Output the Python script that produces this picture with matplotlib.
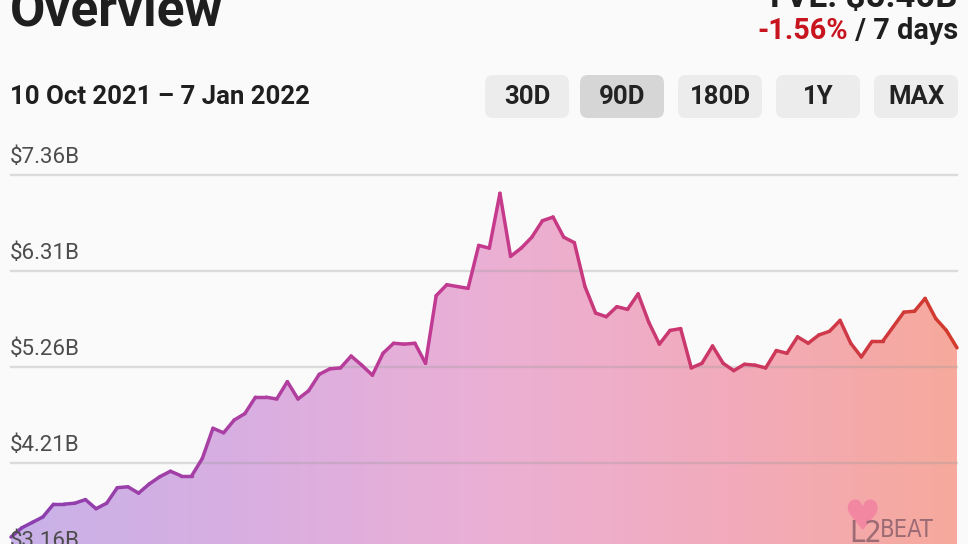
import numpy as np
import matplotlib.pyplot as plt
from matplotlib.collections import LineCollection
from matplotlib.colors import LinearSegmentedColormap
from matplotlib.patches import FancyBboxPatch

plt.rcParams['font.family'] = ['Roboto', 'DejaVu Sans']

# total value locked, billions of USD, one value per day (10 Oct 2021 - 7 Jan 2022)
tvl = [3.40, 3.50, 3.56, 3.62, 3.76, 3.76, 3.77, 3.81, 3.71, 3.77,
       3.94, 3.95, 3.88, 3.98, 4.06, 4.12, 4.07, 4.07, 4.26, 4.59,
       4.54, 4.68, 4.75, 4.93, 4.93, 4.91, 5.10, 4.91, 5.00, 5.18,
       5.24, 5.25, 5.38, 5.28, 5.17, 5.41, 5.52, 5.51, 5.52, 5.30,
       6.04, 6.16, 6.14, 6.12, 6.59, 6.56, 7.16, 6.47, 6.56, 6.68,
       6.86, 6.90, 6.68, 6.62, 6.14, 5.85, 5.81, 5.92, 5.89, 6.06,
       5.75, 5.51, 5.66, 5.68, 5.25, 5.30, 5.49, 5.30, 5.22, 5.29,
       5.28, 5.25, 5.44, 5.41, 5.59, 5.52, 5.61, 5.65, 5.77, 5.52,
       5.37, 5.54, 5.54, 5.70, 5.86, 5.87, 6.01, 5.79, 5.66, 5.47]

tick_values = [3.16, 4.21, 5.26, 6.31, 7.36]
tick_labels = ['$3.16B', '$4.21B', '$5.26B', '$6.31B', '$7.36B']

ranges = ['30D', '90D', '180D', '1Y', 'MAX']
selected = '90D'

title = 'Overview'
tvl_text = 'TVL: $5.40B'
change_text = '-1.56%'
period_text = ' / 7 days'
date_text = '10 Oct 2021 \u2013 7 Jan 2022'

W, H = 968, 544
days = np.arange(len(tvl))
step = 946 / (len(tvl) - 1)      # px per day
vpp = 1.05 / 96                  # value per px

fig = plt.figure(figsize=(W / 100, H / 100), dpi=100)
fig.patch.set_facecolor('#fafafa')

ax = fig.add_axes([0, 0, 1, 1])
ax.set_facecolor('#fafafa')
x0 = -11 / step
x1 = len(tvl) - 1 + 11 / step
ymax = 7.36 + 175 * vpp
ymin = 7.36 - (H - 175) * vpp
ax.set_xlim(x0, x1)
ax.set_ylim(ymin, ymax)
ax.axis('off')

# gradient area under the line
fill_cmap = LinearSegmentedColormap.from_list(
    'fill', ['#c8b2e8', '#d9aee1', '#ebb0d5', '#f2abbd', '#f6a99c'])
grad = np.linspace(0, 1, 256).reshape(1, -1)
im = ax.imshow(grad, extent=[0, len(tvl) - 1, ymin, ymax], aspect='auto',
               cmap=fill_cmap, zorder=1, interpolation='bicubic')
poly = ax.fill_between(days, tvl, ymin - 1, facecolor='none', edgecolor='none')
im.set_clip_path(poly.get_paths()[0], transform=ax.transData)

# grid lines
gx0 = (10 - 11) / step
gx1 = (958 - 11) / step
for v in tick_values:
    ax.plot([gx0, gx1], [v, v], color='#9a9a9a', alpha=0.32, lw=1.7,
            zorder=2, solid_capstyle='butt')

# gradient line
line_cmap = LinearSegmentedColormap.from_list(
    'line', ['#8a3fb0', '#ad3fa2', '#c53a8e', '#cb3868', '#d23a2c'])
pts = np.column_stack([days, tvl]).reshape(-1, 1, 2)
segs = np.concatenate([pts[:-1], pts[1:]], axis=1)
lc = LineCollection(segs, cmap=line_cmap, linewidths=2.5, zorder=3,
                    capstyle='round', joinstyle='round')
lc.set_array(np.linspace(0, 1, len(segs)))
ax.add_collection(lc)

# y labels sit above their grid lines
for v, lab in zip(tick_values, tick_labels):
    ax.annotate(lab, (gx0, v), xytext=(0, 8.6), textcoords='offset points',
                ha='left', va='baseline', fontsize=16, color='#4d4d4d',
                zorder=4, annotation_clip=False)

# header, drawn in pixel coordinates
ov = fig.add_axes([0, 0, 1, 1], facecolor='none')
ov.set_xlim(0, W)
ov.set_ylim(H, 0)
ov.axis('off')

ov.text(10, 25, title, fontsize=37, fontweight='bold', color='#1f1f1f',
        ha='left', va='baseline')
ov.text(958, 7, tvl_text, fontsize=25, fontweight='bold', color='#1f1f1f',
        ha='right', va='baseline')
t_period = ov.text(958, 39, period_text, fontsize=20.8, fontweight='bold',
                   color='#1f1f1f', ha='right', va='baseline')
fig.canvas.draw()
bb = t_period.get_window_extent().transformed(ov.transData.inverted())
ov.text(bb.x0, 39, change_text, fontsize=20.8, fontweight='bold',
        color='#c8141e', ha='right', va='baseline')

ov.text(10, 104, date_text, fontsize=18.5, fontweight='bold', color='#1f1f1f',
        ha='left', va='baseline')

bx = [485, 580, 678, 776, 874]
for left, name in zip(bx, ranges):
    face = '#d6d6d6' if name == selected else '#ececec'
    box = FancyBboxPatch((left, 75), 84, 43,
                         boxstyle='round,pad=0,rounding_size=8',
                         facecolor=face, edgecolor='none')
    ov.add_patch(box)
    ov.text(left + 42, 97, name, fontsize=18.5, fontweight='bold',
            color='#222222', ha='center', va='center')

# watermark
ov.text(862, 530, '\u2665', fontsize=30, color='#f27fa0', alpha=0.8,
        ha='center', va='baseline', family='DejaVu Sans')
ov.text(866, 542, 'L2', fontsize=22, color='#9c6b74', ha='center',
        va='baseline', family='DejaVu Sans', fontstretch='condensed')
ov.text(880, 537, 'BEAT', fontsize=17, color='#9c6b74', ha='left',
        va='baseline', family='DejaVu Sans', fontstretch='condensed')

plt.savefig('out.png', dpi=100, facecolor=fig.get_facecolor())
